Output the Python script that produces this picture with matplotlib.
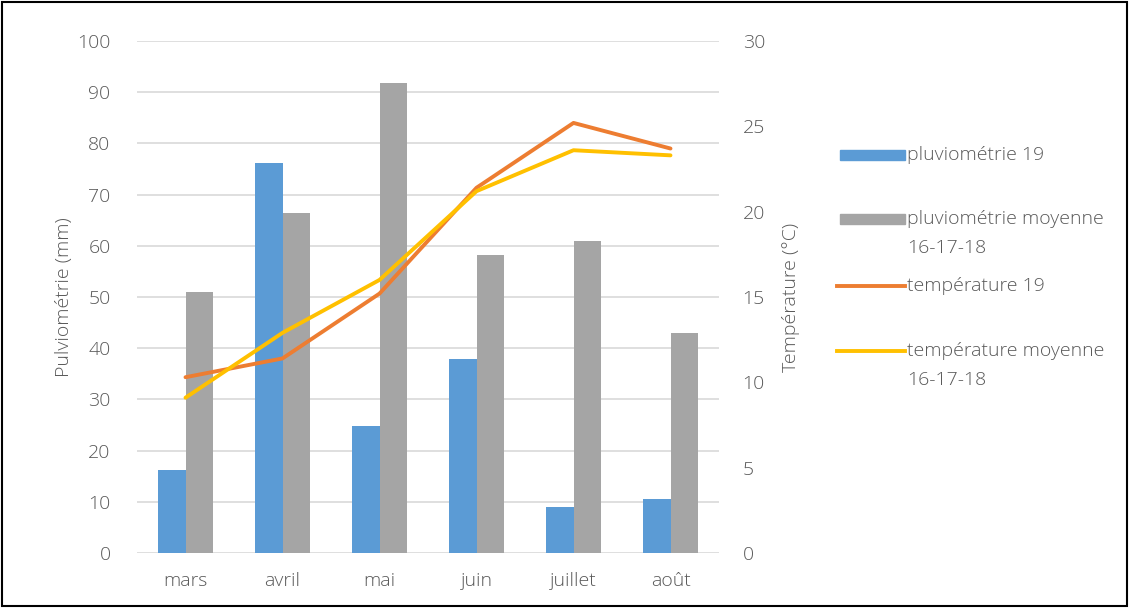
import matplotlib
matplotlib.use("Agg")
import matplotlib.pyplot as plt
import numpy as np
from matplotlib.lines import Line2D
from matplotlib.patches import Rectangle

months = ["mars", "avril", "mai", "juin", "juillet", "août"]
pluvio_19 = [16.2, 76.1, 24.9, 37.8, 8.9, 10.5]
pluvio_moy = [51.0, 66.5, 91.7, 58.2, 60.9, 43.0]
temp_19 = [10.3, 11.4, 15.2, 21.4, 25.2, 23.7]
temp_moy = [9.1, 12.9, 16.0, 21.2, 23.6, 23.3]

left_ticks = list(range(0, 101, 10))
right_ticks = list(range(0, 31, 5))

C_BLUE = "#5B9BD5"
C_GREY = "#A5A5A5"
C_ORANGE = "#ED7D31"
C_YELLOW = "#FFC000"
C_TEXT = "#595959"
C_GRID = "#D9D9D9"
FS = 14

plt.rcParams['font.family'] = ['Open Sans', 'DejaVu Sans']
plt.rcParams['font.weight'] = 'light'
plt.rcParams['axes.labelweight'] = 'light'

W, H = 1129, 608
fig = plt.figure(figsize=(W / 100, H / 100), dpi=100)
ax = fig.add_axes([137 / W, 1 - 553 / H, (719 - 137) / W, (553 - 41) / H])

x = np.arange(len(months))
bw = 0.28
ax.bar(x - bw / 2, pluvio_19, width=bw, color=C_BLUE, zorder=2)
ax.bar(x + bw / 2, pluvio_moy, width=bw, color=C_GREY, zorder=2)

ax.set_xlim(-0.5, len(months) - 0.5)
ax.set_ylim(0, 100)
ax.set_yticks(left_ticks)
ax.set_xticks(x)
ax.set_xticklabels(months)
ax.grid(axis='y', color=C_GRID, linewidth=1.2, zorder=0)
ax.set_axisbelow(True)
for s in ax.spines.values():
    s.set_visible(False)
ax.tick_params(axis='both', length=0, colors=C_TEXT, labelsize=FS)
ax.tick_params(axis='x', pad=14)
ax.tick_params(axis='y', pad=19)
ax.set_ylabel("Pulviométrie (mm)", color=C_TEXT, fontsize=FS, labelpad=3)

ax2 = ax.twinx()
ax2.plot(x, temp_19, color=C_ORANGE, linewidth=2.8, solid_capstyle='round', zorder=3)
ax2.plot(x, temp_moy, color=C_YELLOW, linewidth=2.8, solid_capstyle='round', zorder=4)
ax2.set_ylim(0, 30)
ax2.set_yticks(right_ticks)
for s in ax2.spines.values():
    s.set_visible(False)
ax2.tick_params(axis='y', length=0, colors=C_TEXT, labelsize=FS, pad=17)
ax2.set_ylabel("Température (°C)", color=C_TEXT, fontsize=FS, labelpad=12)


def fx(px):
    return px / W


def fy(py):
    return 1 - py / H


# Legend (Excel style, drawn in figure coordinates)
legend_items = [
    ("patch", C_BLUE, ["pluviométrie 19"], 155),
    ("patch", C_GREY, ["pluviométrie moyenne", "16-17-18"], 219),
    ("line", C_ORANGE, ["température 19"], 286),
    ("line", C_YELLOW, ["température moyenne", "16-17-18"], 351),
]
for kind, col, lines, py in legend_items:
    if kind == "patch":
        fig.add_artist(Rectangle((fx(840), fy(py + 5)), fx(905) - fx(840), fy(py - 5) - fy(py + 5),
                                 transform=fig.transFigure, color=col))
    else:
        fig.add_artist(Line2D([fx(837), fx(905)], [fy(py), fy(py)], transform=fig.transFigure,
                              color=col, linewidth=2.8))
    for i, t in enumerate(lines):
        fig.text(fx(907), fy(py + 29 * i), t, color=C_TEXT, fontsize=FS, va='center', ha='left')

# Outer frame
fig.add_artist(Rectangle((2 / W, 2 / H), (W - 4) / W, (H - 4) / H, transform=fig.transFigure,
                         fill=False, edgecolor="black", linewidth=1.5))

fig.savefig("out.png", dpi=100)
